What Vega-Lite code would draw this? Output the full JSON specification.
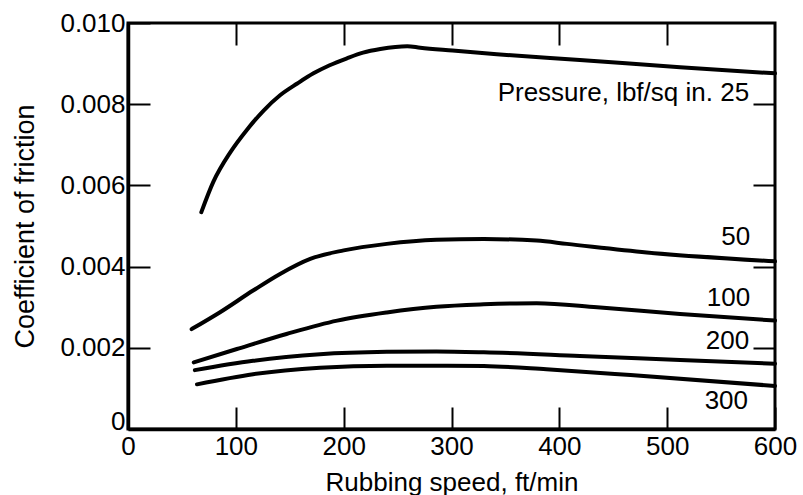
{
  "$schema": "https://vega.github.io/schema/vega-lite/v6.json",
  "width": 647,
  "height": 406,
  "autosize": "none",
  "padding": {"left": 128, "top": 23, "right": 28, "bottom": 66},
  "background": "white",
  "config": {
    "view": {"stroke": "black", "strokeWidth": 3},
    "font": "Liberation Sans",
    "axis": {
      "domainColor": "black",
      "domainWidth": 3.5,
      "tickColor": "black",
      "tickWidth": 2,
      "tickSize": -22,
      "labelColor": "black",
      "labelFont": "Liberation Sans",
      "labelFontSize": 26,
      "titleColor": "black",
      "titleFont": "Liberation Sans",
      "titleFontSize": 26,
      "titleFontWeight": "normal",
      "grid": false
    }
  },
  "datasets": {
    "curves": [
      {"p": "25", "x": 68, "y": 0.00534},
      {"p": "25", "x": 79, "y": 0.00608},
      {"p": "25", "x": 95, "y": 0.00682},
      {"p": "25", "x": 110, "y": 0.00736},
      {"p": "25", "x": 126, "y": 0.00785},
      {"p": "25", "x": 141, "y": 0.00822},
      {"p": "25", "x": 157, "y": 0.00851},
      {"p": "25", "x": 172, "y": 0.00876},
      {"p": "25", "x": 187, "y": 0.00896},
      {"p": "25", "x": 203, "y": 0.00913},
      {"p": "25", "x": 218, "y": 0.00927},
      {"p": "25", "x": 234, "y": 0.00936},
      {"p": "25", "x": 259, "y": 0.00943},
      {"p": "25", "x": 271, "y": 0.00939},
      {"p": "25", "x": 301, "y": 0.00932},
      {"p": "25", "x": 342, "y": 0.00923},
      {"p": "25", "x": 419, "y": 0.00909},
      {"p": "25", "x": 512, "y": 0.00891},
      {"p": "25", "x": 600, "y": 0.00876},
      {"p": "50", "x": 59, "y": 0.00246},
      {"p": "50", "x": 85, "y": 0.00287},
      {"p": "50", "x": 116, "y": 0.00341},
      {"p": "50", "x": 141, "y": 0.00382},
      {"p": "50", "x": 169, "y": 0.00419},
      {"p": "50", "x": 200, "y": 0.00440},
      {"p": "50", "x": 240, "y": 0.00456},
      {"p": "50", "x": 286, "y": 0.00466},
      {"p": "50", "x": 330, "y": 0.00468},
      {"p": "50", "x": 379, "y": 0.00464},
      {"p": "50", "x": 407, "y": 0.00456},
      {"p": "50", "x": 481, "y": 0.00435},
      {"p": "50", "x": 600, "y": 0.00413},
      {"p": "100", "x": 61, "y": 0.00164},
      {"p": "100", "x": 101, "y": 0.00197},
      {"p": "100", "x": 147, "y": 0.00234},
      {"p": "100", "x": 194, "y": 0.00267},
      {"p": "100", "x": 240, "y": 0.00287},
      {"p": "100", "x": 286, "y": 0.00301},
      {"p": "100", "x": 330, "y": 0.00307},
      {"p": "100", "x": 379, "y": 0.00310},
      {"p": "100", "x": 435, "y": 0.00300},
      {"p": "100", "x": 512, "y": 0.00283},
      {"p": "100", "x": 600, "y": 0.00267},
      {"p": "200", "x": 62, "y": 0.00145},
      {"p": "200", "x": 116, "y": 0.00168},
      {"p": "200", "x": 178, "y": 0.00184},
      {"p": "200", "x": 240, "y": 0.00190},
      {"p": "200", "x": 286, "y": 0.00191},
      {"p": "200", "x": 330, "y": 0.00189},
      {"p": "200", "x": 419, "y": 0.00180},
      {"p": "200", "x": 512, "y": 0.00170},
      {"p": "200", "x": 600, "y": 0.00161},
      {"p": "300", "x": 64, "y": 0.00110},
      {"p": "300", "x": 116, "y": 0.00135},
      {"p": "300", "x": 178, "y": 0.00151},
      {"p": "300", "x": 240, "y": 0.00156},
      {"p": "300", "x": 286, "y": 0.00156},
      {"p": "300", "x": 330, "y": 0.00155},
      {"p": "300", "x": 388, "y": 0.00147},
      {"p": "300", "x": 466, "y": 0.00133},
      {"p": "300", "x": 600, "y": 0.00106}
    ],
    "labels": [
      {"label": "Pressure, lbf/sq in. 25", "x": 576, "y": 0.00827},
      {"label": "50", "x": 577, "y": 0.00472},
      {"label": "100", "x": 577, "y": 0.00323},
      {"label": "200", "x": 576, "y": 0.00217},
      {"label": "300", "x": 575, "y": 0.00069}
    ]
  },
  "layer": [
    {
      "data": {"name": "curves"},
      "mark": {"type": "line", "color": "black", "strokeWidth": 4, "interpolate": "monotone", "strokeCap": "round"},
      "encoding": {
        "x": {
          "field": "x", "type": "quantitative",
          "scale": {"domain": [0, 600], "nice": false},
          "axis": {
            "orient": "bottom",
            "title": "Rubbing speed, ft/min",
            "values": [0, 100, 200, 300, 400, 500, 600],
            "labelPadding": 26,
            "titlePadding": 10,
            "labelFlush": false
          }
        },
        "y": {
          "field": "y", "type": "quantitative",
          "scale": {"domain": [0, 0.01], "nice": false},
          "axis": {
            "orient": "left",
            "title": "Coefficient of friction",
            "titleFontSize": 27,
            "values": [0, 0.002, 0.004, 0.006, 0.008, 0.01],
            "labelExpr": "datum.value == 0 ? '0' : format(datum.value, '.3f')",
            "labelBaseline": {"condition": {"test": "datum.value == 0", "value": "alphabetic"}, "value": "middle"},
            "labelPadding": 25,
            "titlePadding": 20,
            "labelFlush": false
          }
        },
        "detail": {"field": "p"}
      }
    },
    {
      "data": {"name": "labels"},
      "mark": {"type": "text", "align": "right", "baseline": "middle", "fontSize": 26, "font": "Liberation Sans", "color": "black"},
      "encoding": {
        "x": {
          "field": "x", "type": "quantitative",
          "axis": {"orient": "top", "values": [100, 200, 300, 400, 500], "labels": false, "title": null, "domain": false}
        },
        "y": {
          "field": "y", "type": "quantitative",
          "axis": {"orient": "right", "values": [0.002, 0.004, 0.006, 0.008], "labels": false, "title": null, "domain": false}
        },
        "text": {"field": "label"}
      }
    }
  ],
  "resolve": {"axis": {"x": "independent", "y": "independent"}}
}
